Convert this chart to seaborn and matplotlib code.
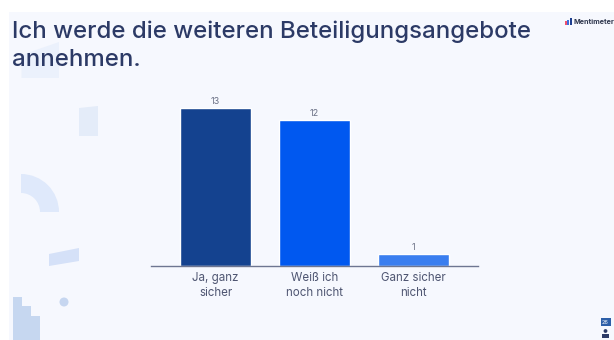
import matplotlib
matplotlib.use("Agg")
import matplotlib.pyplot as plt
from matplotlib.patches import Polygon, Rectangle, Circle, Wedge
import pandas as pd
import seaborn as sns

categories = ["Ja, ganz\nsicher", "Weiß ich\nnoch nicht", "Ganz sicher\nnicht"]
votes = [13, 12, 1]
bar_colors = ["#14428F", "#0058F0", "#3A7EEF"]
title = "Ich werde die weiteren Beteiligungsangebote\nannehmen."

W, H = 614, 340
SLIDE = "#F6F8FE"
INK = "#2C3A66"
LABEL = "#4F5672"
VALUE = "#6A7085"

sns.set_theme(style="white")
plt.rcParams["font.family"] = ["Inter", "DejaVu Sans"]

fig = plt.figure(figsize=(W / 100, H / 100), dpi=100, facecolor="white")

# Full-figure layer in pixel units (origin top-left) for the slide background and ornaments
bg = fig.add_axes([0, 0, 1, 1], zorder=0)
bg.set_xlim(0, W)
bg.set_ylim(H, 0)
bg.axis("off")
bg.add_patch(Rectangle((9, 12), W - 9, H - 12, color=SLIDE, lw=0))
bg.add_patch(Polygon([(21.5, 55), (59, 42), (59, 78), (21.5, 78)], color="#EBF1FC", lw=0))
bg.add_patch(Polygon([(79, 108), (98, 106), (98, 136), (79, 136)], color="#E4ECF9", lw=0))
bg.add_patch(Wedge((21, 212), 38, 270, 360, width=19, color="#DFE9FB", lw=0))
bg.add_patch(Polygon([(49, 254), (79, 248), (79, 261), (49, 266)], color="#D5E1F8", lw=0))
bg.add_patch(Circle((64, 302), 4.5, color="#C6D6F0", lw=0))
bg.add_patch(Polygon([(13, 297), (22, 297), (22, 306), (31, 306), (31, 316), (40, 316),
                      (40, 340), (13, 340)], color="#C6D7F0", lw=0))

# Presenter furniture: logo mark, wordmark and the participant counter
for x, c, h in [(565, "#F0506E", 4), (567.3, "#3A6FE0", 5.5), (569.6, "#1E3F8F", 7)]:
    bg.add_patch(Rectangle((x, 25 - h), 1.9, h, color=c, lw=0))
bg.text(573.5, 22, "Mentimeter", fontsize=5.2, color="#30384F", va="center", ha="left", weight="bold")
bg.add_patch(Rectangle((600.5, 318), 10, 8, color="#2D5FA8", lw=0))
bg.text(605.5, 322, "26", fontsize=4, color="white", va="center", ha="center")
bg.add_patch(Circle((605.5, 331), 1.9, color="#2C3A66", lw=0))
bg.add_patch(Rectangle((602, 334), 7, 3.5, color="#2C3A66", lw=0))

bg.text(12, 46, title, fontsize=17.3, color=INK, linespacing=1.38, va="center", ha="left", weight=500)

# Bar chart: baseline at y=266 px, top of the tallest bar at y=107.8 px
ax = fig.add_axes([151 / W, 1 - 266 / H, 327 / W, 158.2 / H], zorder=1)
ax.patch.set_alpha(0)
data = pd.DataFrame({"answer": categories, "votes": votes})
sns.barplot(data=data, x="answer", y="votes", hue="answer", palette=bar_colors,
            legend=False, width=0.71, saturation=1, ax=ax)
ax.set_xlim(-0.652, 2.65)
ax.set_ylim(0, 13)
ax.set_xlabel("")
ax.set_ylabel("")
ax.set_yticks([])
ax.tick_params(axis="x", length=0, pad=4, labelsize=8.3, labelcolor=LABEL)
for label in ax.get_xticklabels():
    label.set_linespacing(1.4)
sns.despine(ax=ax, left=True)
ax.spines["bottom"].set_color("#6E7691")
ax.spines["bottom"].set_linewidth(1.0)
for container in ax.containers:
    ax.bar_label(container, padding=1.5, fontsize=6.5, color=VALUE)

fig.savefig("out.png", dpi=100, facecolor=fig.get_facecolor())
